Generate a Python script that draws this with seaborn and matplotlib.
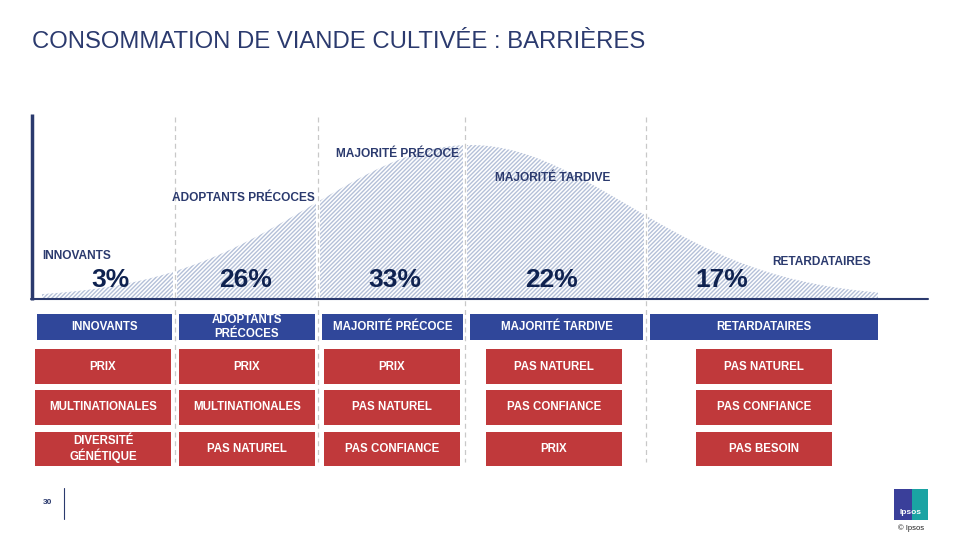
import numpy as np
import seaborn as sns
import matplotlib.pyplot as plt
from matplotlib.patches import Rectangle

# --- data -------------------------------------------------------------
segments = ['INNOVANTS', 'ADOPTANTS PRÉCOCES', 'MAJORITÉ PRÉCOCE',
            'MAJORITÉ TARDIVE', 'RETARDATAIRES']
header_labels = ['INNOVANTS', 'ADOPTANTS\nPRÉCOCES', 'MAJORITÉ PRÉCOCE',
                 'MAJORITÉ TARDIVE', 'RETARDATAIRES']
shares = [3, 26, 33, 22, 17]
barriers = [
    ['PRIX', 'MULTINATIONALES', 'DIVERSITÉ\nGÉNÉTIQUE'],
    ['PRIX', 'MULTINATIONALES', 'PAS NATUREL'],
    ['PRIX', 'PAS NATUREL', 'PAS CONFIANCE'],
    ['PAS NATUREL', 'PAS CONFIANCE', 'PRIX'],
    ['PAS NATUREL', 'PAS CONFIANCE', 'PAS BESOIN'],
]

# --- layout (pixel space of a 960x540 slide) --------------------------
seg_edges = [40, 175, 318, 465, 646, 880]
share_x = [110, 246, 395, 552, 722]
label_pos = [(42, 256), (172, 198), (336, 154), (495, 178), (772, 262)]
header_x = [(37, 172), (179, 315), (322, 463), (470, 643), (650, 878)]
box_x = [(35, 171), (179, 315), (324, 460), (486, 622), (696, 832)]
rows_y = [(349, 384), (390, 425), (432, 466)]

NAVY = '#2b3a6e'
DARK = '#0f2250'
BLUE = '#30479a'
RED = '#c0393b'
HATCH = '#b4c0d8'

sns.set_theme(style='white')
plt.rcParams['font.family'] = ['Liberation Sans', 'DejaVu Sans']
plt.rcParams['hatch.linewidth'] = 1.0

fig = plt.figure(figsize=(9.6, 5.4), dpi=100)
ax = fig.add_axes([0, 0, 1, 1])
ax.set_xlim(0, 960)
ax.set_ylim(540, 0)
ax.axis('off')

ax.text(32, 42, 'CONSOMMATION DE VIANDE CULTIVÉE : BARRIÈRES',
        fontsize=17.2, color=NAVY, va='center', ha='left')

# adoption curve, one hatched piece per segment
base = 298
for i in range(5):
    x0, x1 = seg_edges[i] + 2, seg_edges[i + 1] - 2
    xs = np.linspace(x0, x1, 120)
    ys = base - 153 * np.exp(-0.5 * ((xs - 470) / 158) ** 2)
    ax.fill_between(xs, ys, base, facecolor='white', edgecolor=HATCH,
                    hatch='////////', linewidth=0)

for x in seg_edges[1:-1]:
    ax.plot([x, x], [117, 462], color='#c8c8c8', lw=0.9, ls=(0, (4, 3)))

ax.plot([32, 32], [114, 300], color=NAVY, lw=2.5, solid_capstyle='butt')
ax.plot([31, 928], [299, 299], color=NAVY, lw=1.5)

for (lx, ly), name in zip(label_pos, segments):
    ax.text(lx, ly, name, fontsize=8.6, color=NAVY, fontweight='bold',
            ha='left', va='center')

for x, s in zip(share_x, shares):
    ax.text(x, 280, f'{s}%', fontsize=19, color=DARK, fontweight='bold',
            ha='center', va='center')

# segment headers
for (x0, x1), lab in zip(header_x, header_labels):
    ax.add_patch(Rectangle((x0, 314), x1 - x0, 26, color=BLUE, lw=0))
    ax.text((x0 + x1) / 2, 327, lab, color='white', fontsize=8.3,
            fontweight='bold', ha='center', va='center', linespacing=1.2)

# barrier boxes
for (x0, x1), items in zip(box_x, barriers):
    for (y0, y1), item in zip(rows_y, items):
        ax.add_patch(Rectangle((x0, y0), x1 - x0, y1 - y0, color=RED, lw=0))
        ax.text((x0 + x1) / 2, (y0 + y1) / 2, item, color='white',
                fontsize=8.3, fontweight='bold', ha='center', va='center',
                linespacing=1.05)

# footer
ax.text(48, 503, '30', fontsize=6, color=NAVY, fontweight='bold',
        ha='center', va='center')
ax.plot([64, 64], [488, 519], color=NAVY, lw=0.8)
ax.add_patch(Rectangle((894, 489), 18, 31, color='#3a3f9a', lw=0))
ax.add_patch(Rectangle((912, 489), 16, 31, color='#1aa3a3', lw=0))
ax.text(911, 512, 'Ipsos', color='white', fontsize=6, fontweight='bold',
        ha='center', va='center')
ax.text(911, 528, '© Ipsos', color='#222222', fontsize=5.5,
        ha='center', va='center')

fig.savefig('out.png', dpi=100)
